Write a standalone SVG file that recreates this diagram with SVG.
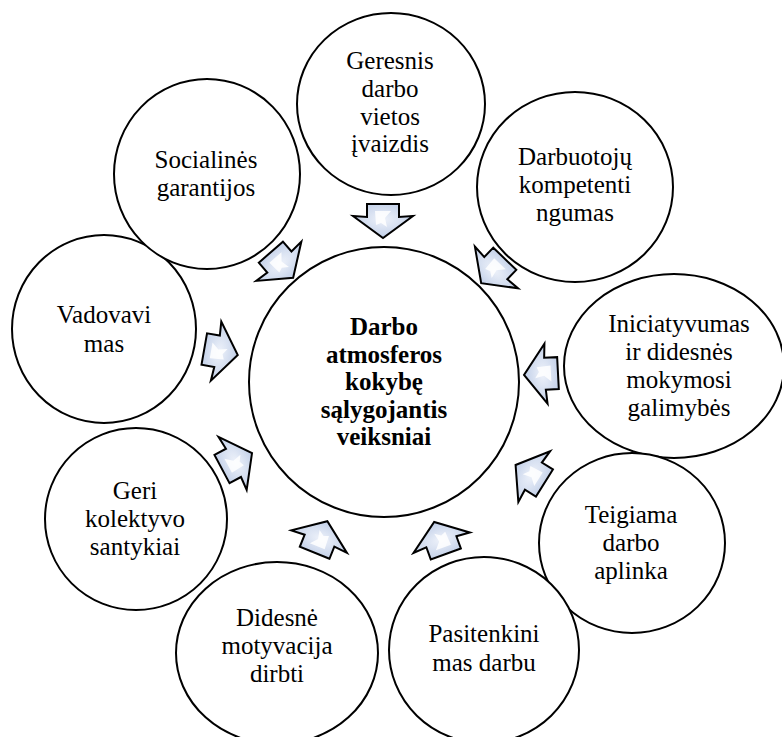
<svg xmlns="http://www.w3.org/2000/svg" xmlns:xlink="http://www.w3.org/1999/xlink" width="782" height="737" viewBox="0 0 782 737">
<defs>
<style>
.c{fill:#fff;stroke:#000;stroke-width:2}
.t{font-size:25px;fill:#000;text-anchor:middle}
.b{font-weight:bold}
.a{fill:url(#g);stroke:#000;stroke-width:2;stroke-linejoin:miter}
.h{fill:#fff;opacity:0.85}
</style>
<radialGradient id="g" cx="0.5" cy="0.45" r="0.6">
<stop offset="0" stop-color="#eef2fa"/>
<stop offset="1" stop-color="#bccbe6"/>
</radialGradient>
<g id="arr">
<path class="a" d="M-16,-17 L16,-17 L16,-4 L30,-5 L0,17 L-30,-5 L-16,-4 Z"/>
<path class="h" d="M-8,-10 L8,-10 L2,-3 L4,6 L-2,2 L-7,4 Z"/>
</g>
</defs>
<rect width="782" height="737" fill="#fff"/>
<g font-family="'Liberation Serif', 'Times New Roman', Times, serif">
<g id="center">
<circle class="c" cx="384" cy="382" r="135"/>
<text class="t b"><tspan x="384" y="335">Darbo</tspan><tspan x="384" y="363">atmosferos</tspan><tspan x="384" y="390">kokybę</tspan><tspan x="384" y="418">sąlygojantis</tspan><tspan x="384" y="445">veiksniai</tspan></text>
</g>
<g id="n1">
<ellipse class="c" cx="391" cy="104" rx="94" ry="91"/>
<text class="t"><tspan x="390" y="69">Geresnis</tspan><tspan x="390" y="97">darbo</tspan><tspan x="390" y="125">vietos</tspan><tspan x="390" y="152">įvaizdis</tspan></text>
</g>
<g id="n2">
<ellipse class="c" cx="575" cy="187" rx="98" ry="95"/>
<text class="t"><tspan x="575" y="165">Darbuotojų</tspan><tspan x="575" y="193">kompetenti</tspan><tspan x="575" y="221">ngumas</tspan></text>
</g>
<g id="n3">
<ellipse class="c" cx="674" cy="366" rx="110" ry="92"/>
<text class="t"><tspan x="679" y="332">Iniciatyvumas</tspan><tspan x="679" y="360">ir didesnės</tspan><tspan x="679" y="388">mokymosi</tspan><tspan x="679" y="416">galimybės</tspan></text>
</g>
<g id="n4">
<ellipse class="c" cx="632" cy="543" rx="93" ry="90"/>
<text class="t"><tspan x="631" y="523">Teigiama</tspan><tspan x="631" y="551">darbo</tspan><tspan x="631" y="579">aplinka</tspan></text>
</g>
<g id="n5">
<ellipse class="c" cx="484" cy="650" rx="95" ry="93"/>
<text class="t"><tspan x="484" y="642">Pasitenkini</tspan><tspan x="484" y="671">mas darbu</tspan></text>
</g>
<g id="n6">
<ellipse class="c" cx="277" cy="653" rx="101" ry="91"/>
<text class="t"><tspan x="277" y="626">Didesnė</tspan><tspan x="277" y="654">motyvacija</tspan><tspan x="277" y="682">dirbti</tspan></text>
</g>
<g id="n7">
<ellipse class="c" cx="136" cy="519" rx="91" ry="91"/>
<text class="t"><tspan x="135" y="499">Geri</tspan><tspan x="135" y="527">kolektyvo</tspan><tspan x="135" y="555">santykiai</tspan></text>
</g>
<g id="n8">
<ellipse class="c" cx="104" cy="329" rx="92" ry="94"/>
<text class="t"><tspan x="104" y="323">Vadovavi</tspan><tspan x="104" y="352">mas</tspan></text>
</g>
<g id="n9">
<ellipse class="c" cx="207" cy="174" rx="93" ry="95"/>
<text class="t"><tspan x="206" y="168">Socialinės</tspan><tspan x="206" y="196">garantijos</tspan></text>
</g>
</g>
<g id="connectors">
<use xlink:href="#arr" transform="translate(383,221)"/>
<use xlink:href="#arr" transform="translate(282,265) rotate(-41)"/>
<use xlink:href="#arr" transform="translate(221,352) rotate(-80)"/>
<use xlink:href="#arr" transform="translate(237,461) rotate(-118)"/>
<use xlink:href="#arr" transform="translate(321,537) rotate(-158)"/>
<use xlink:href="#arr" transform="translate(440,538) rotate(160)"/>
<use xlink:href="#arr" transform="translate(530,474) rotate(122)"/>
<use xlink:href="#arr" transform="translate(541,374) rotate(87)"/>
<use xlink:href="#arr" transform="translate(493,271) rotate(44)"/>
</g>
</svg>
